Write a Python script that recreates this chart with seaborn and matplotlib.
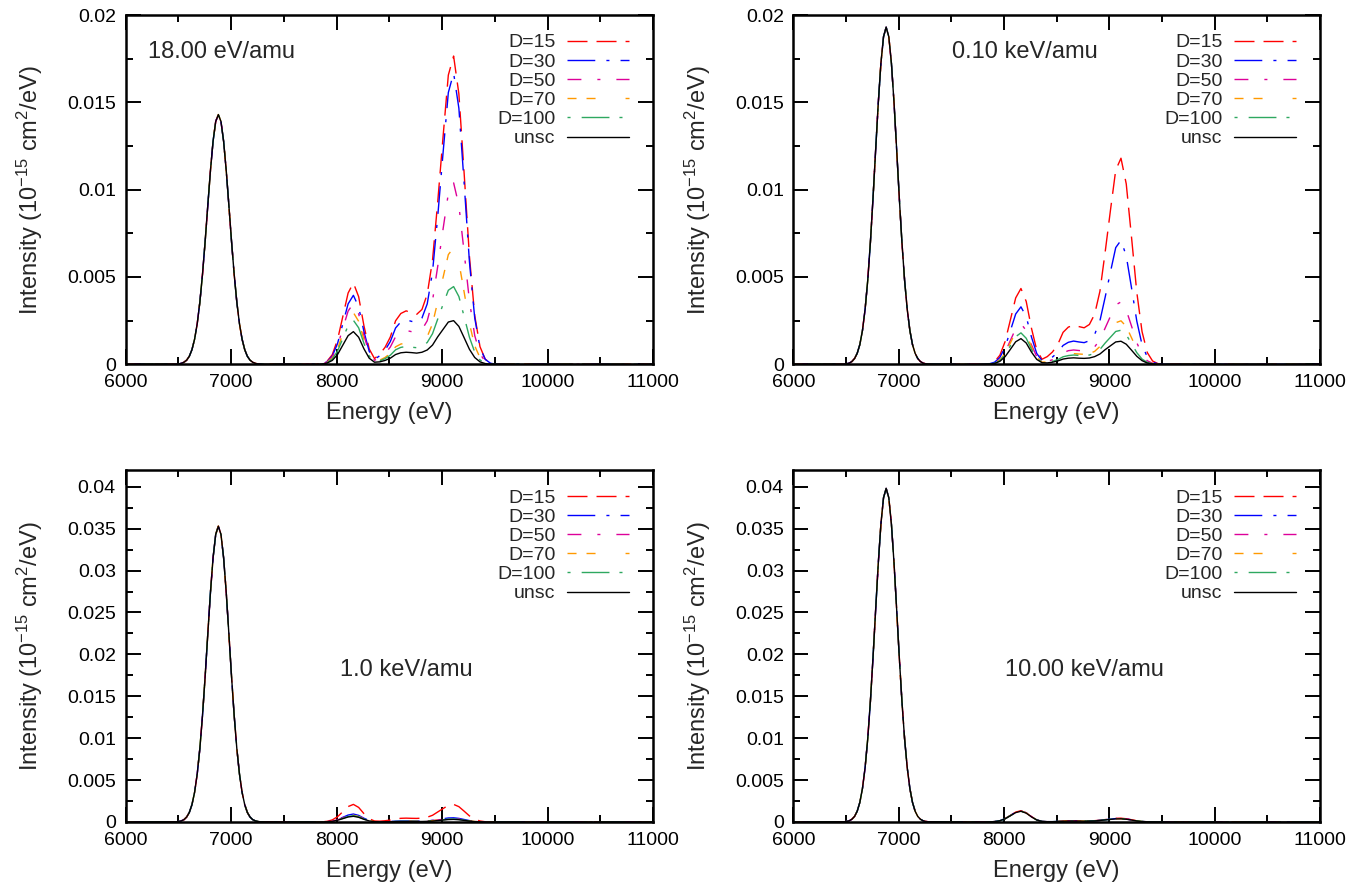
import numpy as np
import pandas as pd
import matplotlib
matplotlib.use("Agg")
import matplotlib.pyplot as plt
from matplotlib.ticker import MultipleLocator, FuncFormatter
import seaborn as sns

# ---------------- data ----------------
series_names = ["D=15", "D=30", "D=50", "D=70", "D=100", "unsc"]
panel_titles = ["18.00 eV/amu", "0.10 keV/amu", "1.0 keV/amu", "10.00 keV/amu"]

# energy grids (eV)
energy_main = np.arange(6480, 7281, 25)   # 33 points, main line
energy_sat = np.arange(7810, 9511, 50)    # 35 points, satellite lines

# main line (identical for all D within a panel)
p1_main = [0.00001, 0.00002, 0.00006, 0.00012, 0.00024, 0.00046, 0.00084, 0.00144, 0.00233, 0.00357, 0.00516,
           0.00704, 0.00909, 0.01108, 0.01277, 0.0139, 0.0143, 0.0139, 0.01277, 0.01108, 0.00909, 0.00704,
           0.00516, 0.00357, 0.00233, 0.00144, 0.00084, 0.00046, 0.00024, 0.00012, 0.00006, 0.00002, 0.00001]
p2_main = [0.00001, 0.00003, 0.00007, 0.00016, 0.00033, 0.00063, 0.00113, 0.00194, 0.00315, 0.00481, 0.00696,
           0.0095, 0.01226, 0.01495, 0.01723, 0.01876, 0.0193, 0.01876, 0.01723, 0.01495, 0.01226, 0.0095,
           0.00696, 0.00481, 0.00315, 0.00194, 0.00113, 0.00063, 0.00033, 0.00016, 0.00007, 0.00003, 0.00001]
p3_main = [0.00002, 0.00006, 0.00014, 0.00029, 0.0006, 0.00114, 0.00207, 0.00355, 0.00575, 0.0088, 0.01273,
           0.01738, 0.02243, 0.02735, 0.03152, 0.03431, 0.0353, 0.03431, 0.03152, 0.02735, 0.02243, 0.01738,
           0.01273, 0.0088, 0.00575, 0.00355, 0.00207, 0.00114, 0.0006, 0.00029, 0.00014, 0.00006, 0.00002]
p4_main = [0.00003, 0.00007, 0.00015, 0.00033, 0.00067, 0.00129, 0.00234, 0.00401, 0.00649, 0.00993, 0.01435,
           0.01959, 0.02529, 0.03084, 0.03553, 0.03869, 0.0398, 0.03869, 0.03553, 0.03084, 0.02529, 0.01959,
           0.01435, 0.00993, 0.00649, 0.00401, 0.00234, 0.00129, 0.00067, 0.00033, 0.00015, 0.00007, 0.00003]

# satellite region, panel 1 (18.00 eV/amu)
p1_d15 = [0.00001, 0.00004, 0.00017, 0.00055, 0.00141, 0.00274, 0.00408, 0.00466, 0.00387, 0.00221, 0.00088,
          0.00033, 0.00058, 0.00097, 0.00156, 0.00249, 0.00291, 0.00306, 0.00295, 0.00286, 0.00314, 0.00401,
          0.00595, 0.00934, 0.01302, 0.01656, 0.01765, 0.01548, 0.01092, 0.00619, 0.0028, 0.00101, 0.00029,
          0.00007, 0.00001]
p1_d30 = [0.00001, 0.00003, 0.00014, 0.00047, 0.00119, 0.00232, 0.00346, 0.00395, 0.00328, 0.00188, 0.00074,
          0.00028, 0.00049, 0.00081, 0.0013, 0.00208, 0.00243, 0.00255, 0.00246, 0.00239, 0.00265, 0.00346,
          0.00528, 0.0085, 0.0121, 0.01556, 0.01668, 0.01466, 0.01035, 0.00587, 0.00266, 0.00096, 0.00028,
          0.00006, 0.00001]
p1_d50 = [0.00001, 0.00003, 0.00013, 0.00041, 0.00105, 0.00205, 0.00305, 0.00348, 0.00289, 0.00165, 0.00065,
          0.00023, 0.00038, 0.00061, 0.00099, 0.00158, 0.00184, 0.00194, 0.00187, 0.00181, 0.00198, 0.00249,
          0.00364, 0.00563, 0.00774, 0.00978, 0.01039, 0.0091, 0.00641, 0.00364, 0.00165, 0.00059, 0.00017,
          0.00004, 0.00001]
p1_d70 = [0.0, 0.00002, 0.00011, 0.00035, 0.00089, 0.00174, 0.00259, 0.00296, 0.00246, 0.00141, 0.00056,
          0.00019, 0.00024, 0.00039, 0.00062, 0.001, 0.00116, 0.00122, 0.00118, 0.00114, 0.00125, 0.00158,
          0.00232, 0.0036, 0.00497, 0.00628, 0.00668, 0.00585, 0.00413, 0.00234, 0.00106, 0.00038, 0.00011,
          0.00003, 0.0]
p1_d100 = [0.0, 0.00002, 0.00009, 0.0003, 0.00076, 0.00148, 0.00221, 0.00252, 0.00209, 0.0012, 0.00047,
           0.00016, 0.0002, 0.00032, 0.00052, 0.00083, 0.00097, 0.00102, 0.00098, 0.00095, 0.00102, 0.00125,
           0.00175, 0.0026, 0.00343, 0.00424, 0.00445, 0.00388, 0.00273, 0.00155, 0.0007, 0.00025, 0.00007,
           0.00002, 0.0]
p1_unsc = [0.0, 0.00002, 0.00007, 0.00022, 0.00056, 0.0011, 0.00164, 0.00187, 0.00155, 0.00089, 0.00035,
           0.00012, 0.00014, 0.00022, 0.00035, 0.00056, 0.00066, 0.00069, 0.00067, 0.00064, 0.00069, 0.00082,
           0.0011, 0.00158, 0.002, 0.00242, 0.0025, 0.00217, 0.00152, 0.00086, 0.00039, 0.00014, 0.00004,
           0.00001, 0.0]

# satellite region, panel 2 (0.10 keV/amu)
p2_d15 = [0.00001, 0.00004, 0.00016, 0.00052, 0.00131, 0.00255, 0.0038, 0.00434, 0.0036, 0.00206, 0.00082,
          0.00029, 0.00044, 0.00071, 0.00114, 0.00183, 0.00213, 0.00224, 0.00216, 0.00209, 0.00228, 0.00287,
          0.00418, 0.00644, 0.00882, 0.01112, 0.0118, 0.01033, 0.00728, 0.00413, 0.00187, 0.00067, 0.00019,
          0.00004, 0.00001]
p2_d30 = [0.0, 0.00003, 0.00012, 0.00039, 0.00099, 0.00193, 0.00288, 0.00329, 0.00273, 0.00156, 0.00062,
          0.00021, 0.00027, 0.00042, 0.00068, 0.00108, 0.00126, 0.00133, 0.00128, 0.00124, 0.00135, 0.00171,
          0.00249, 0.00385, 0.00529, 0.00668, 0.0071, 0.00621, 0.00438, 0.00248, 0.00112, 0.00041, 0.00012,
          0.00003, 0.0]
p2_d50 = [0.0, 0.00002, 0.00008, 0.00028, 0.0007, 0.00137, 0.00204, 0.00233, 0.00193, 0.00111, 0.00044,
          0.00014, 0.00017, 0.00026, 0.00042, 0.00066, 0.00078, 0.00082, 0.00079, 0.00076, 0.00082, 0.001,
          0.0014, 0.00208, 0.00275, 0.0034, 0.00357, 0.00311, 0.00219, 0.00124, 0.00056, 0.0002, 0.00006,
          0.00001, 0.0]
p2_d70 = [0.0, 0.00002, 0.00008, 0.00025, 0.00063, 0.00123, 0.00184, 0.0021, 0.00174, 0.001, 0.00039,
          0.00013, 0.00013, 0.00019, 0.00031, 0.0005, 0.00058, 0.00061, 0.00059, 0.00057, 0.00061, 0.00074,
          0.00102, 0.00149, 0.00194, 0.00238, 0.00249, 0.00217, 0.00152, 0.00086, 0.00039, 0.00014, 0.00004,
          0.00001, 0.0]
p2_d100 = [0.0, 0.00002, 0.00006, 0.00021, 0.00054, 0.00106, 0.00158, 0.0018, 0.00149, 0.00086, 0.00034,
           0.00011, 0.00011, 0.00017, 0.00027, 0.00043, 0.0005, 0.00053, 0.00051, 0.00049, 0.00053, 0.00063,
           0.00085, 0.00122, 0.00155, 0.00188, 0.00195, 0.00169, 0.00119, 0.00067, 0.0003, 0.00011, 0.00003,
           0.00001, 0.0]
p2_unsc = [0.0, 0.00001, 0.00005, 0.00017, 0.00044, 0.00086, 0.00129, 0.00147, 0.00122, 0.0007, 0.00028,
           0.00009, 0.00008, 0.00012, 0.00019, 0.0003, 0.00035, 0.00037, 0.00035, 0.00034, 0.00036, 0.00044,
           0.00059, 0.00084, 0.00106, 0.00128, 0.00132, 0.00115, 0.00081, 0.00046, 0.00021, 0.00007, 0.00002,
           0.0, 0.0]

# satellite region, panel 3 (1.0 keV/amu)
p3_d15 = [0.0, 0.00002, 0.00008, 0.00025, 0.00063, 0.00123, 0.00184, 0.0021, 0.00174, 0.001, 0.00039,
          0.00012, 0.0001, 0.00015, 0.00023, 0.00037, 0.00044, 0.00046, 0.00044, 0.00043, 0.00046, 0.00057,
          0.0008, 0.0012, 0.0016, 0.00199, 0.0021, 0.00183, 0.00129, 0.00073, 0.00033, 0.00012, 0.00003,
          0.00001, 0.0]
p3_d30 = [0.0, 0.00001, 0.00003, 0.00011, 0.00029, 0.00056, 0.00083, 0.00095, 0.00079, 0.00045, 0.00018,
          0.00005, 0.00003, 0.00004, 0.00006, 0.0001, 0.00012, 0.00012, 0.00012, 0.00011, 0.00012, 0.00015,
          0.0002, 0.0003, 0.00039, 0.00048, 0.0005, 0.00043, 0.0003, 0.00017, 0.00008, 0.00003, 0.00001,
          0.0, 0.0]
p3_d50 = [0.0, 0.00001, 0.00003, 0.0001, 0.00026, 0.0005, 0.00074, 0.00085, 0.00071, 0.0004, 0.00016,
          0.00005, 0.00003, 0.00003, 0.00005, 0.00008, 0.0001, 0.0001, 0.0001, 0.00009, 0.0001, 0.00012,
          0.00017, 0.00025, 0.00032, 0.0004, 0.00042, 0.00036, 0.00025, 0.00014, 0.00007, 0.00002, 0.00001,
          0.0, 0.0]
p3_d70 = [0.0, 0.00001, 0.00003, 0.0001, 0.00024, 0.00047, 0.0007, 0.0008, 0.00066, 0.00038, 0.00015,
          0.00004, 0.00002, 0.00003, 0.00005, 0.00007, 0.00009, 0.00009, 0.00009, 0.00008, 0.00009, 0.00011,
          0.00016, 0.00023, 0.0003, 0.00037, 0.00038, 0.00033, 0.00023, 0.00013, 0.00006, 0.00002, 0.00001,
          0.0, 0.0]
p3_d100 = [0.0, 0.00001, 0.00003, 0.00009, 0.00023, 0.00044, 0.00066, 0.00075, 0.00062, 0.00036, 0.00014,
           0.00004, 0.00002, 0.00003, 0.00004, 0.00007, 0.00008, 0.00008, 0.00008, 0.00007, 0.00008, 0.0001,
           0.00014, 0.00021, 0.00027, 0.00034, 0.00035, 0.00031, 0.00022, 0.00012, 0.00006, 0.00002, 0.00001,
           0.0, 0.0]
p3_unsc = [0.0, 0.00001, 0.00002, 0.00008, 0.00021, 0.0004, 0.0006, 0.00068, 0.00056, 0.00032, 0.00013,
           0.00004, 0.00002, 0.00002, 0.00003, 0.00005, 0.00006, 0.00006, 0.00006, 0.00006, 0.00006, 0.00008,
           0.00011, 0.00017, 0.00023, 0.00029, 0.00031, 0.00027, 0.00019, 0.00011, 0.00005, 0.00002, 0.0,
           0.0, 0.0]

# satellite region, panel 4 (10.00 keV/amu)
p4_d15 = [0.0, 0.00001, 0.00005, 0.00016, 0.00041, 0.00079, 0.00118, 0.00135, 0.00112, 0.00064, 0.00025,
          0.00007, 0.00004, 0.00004, 0.00007, 0.00011, 0.00013, 0.00013, 0.00013, 0.00012, 0.00013, 0.00016,
          0.00021, 0.00029, 0.00036, 0.00044, 0.00045, 0.00039, 0.00027, 0.00015, 0.00007, 0.00003, 0.00001,
          0.0, 0.0]
p4_d30 = [0.0, 0.00001, 0.00005, 0.00016, 0.0004, 0.00078, 0.00117, 0.00133, 0.0011, 0.00063, 0.00025,
          0.00007, 0.00004, 0.00004, 0.00006, 0.0001, 0.00012, 0.00012, 0.00012, 0.00011, 0.00012, 0.00014,
          0.00019, 0.00027, 0.00034, 0.00041, 0.00042, 0.00036, 0.00025, 0.00014, 0.00007, 0.00002, 0.00001,
          0.0, 0.0]
p4_d50 = [0.0, 0.00001, 0.00005, 0.00016, 0.0004, 0.00078, 0.00116, 0.00132, 0.0011, 0.00063, 0.00025,
          0.00007, 0.00004, 0.00004, 0.00006, 0.0001, 0.00012, 0.00012, 0.00012, 0.00011, 0.00012, 0.00014,
          0.00019, 0.00027, 0.00033, 0.0004, 0.00041, 0.00035, 0.00025, 0.00014, 0.00006, 0.00002, 0.00001,
          0.0, 0.0]
p4_d70 = [0.0, 0.00001, 0.00005, 0.00016, 0.0004, 0.00077, 0.00115, 0.00131, 0.00109, 0.00062, 0.00025,
          0.00007, 0.00004, 0.00004, 0.00006, 0.0001, 0.00012, 0.00012, 0.00012, 0.00011, 0.00012, 0.00014,
          0.00019, 0.00026, 0.00033, 0.00039, 0.0004, 0.00034, 0.00024, 0.00014, 0.00006, 0.00002, 0.00001,
          0.0, 0.0]
p4_d100 = [0.0, 0.00001, 0.00005, 0.00015, 0.00039, 0.00076, 0.00114, 0.0013, 0.00108, 0.00062, 0.00024,
           0.00007, 0.00004, 0.00004, 0.00006, 0.0001, 0.00012, 0.00012, 0.00012, 0.00011, 0.00012, 0.00014,
           0.00019, 0.00026, 0.00032, 0.00038, 0.00039, 0.00034, 0.00023, 0.00013, 0.00006, 0.00002, 0.00001,
           0.0, 0.0]
p4_unsc = [0.0, 0.00001, 0.00005, 0.00015, 0.00039, 0.00075, 0.00112, 0.00128, 0.00106, 0.00061, 0.00024,
           0.00007, 0.00003, 0.00004, 0.00006, 0.00009, 0.00011, 0.00011, 0.00011, 0.0001, 0.00011, 0.00013,
           0.00018, 0.00025, 0.00031, 0.00037, 0.00038, 0.00033, 0.00023, 0.00013, 0.00006, 0.00002, 0.00001,
           0.0, 0.0]

y_limits = [0.02, 0.02, 0.042, 0.042]
x_ticks = [6000, 7000, 8000, 9000, 10000, 11000]

# ---------------- style ----------------
sns.set_theme(style="ticks")
plt.rcParams["font.family"] = ["Liberation Sans", "DejaVu Sans"]
plt.rcParams["mathtext.fontset"] = "custom"
plt.rcParams["mathtext.rm"] = "Liberation Sans"
plt.rcParams["mathtext.it"] = "Liberation Sans:italic"
plt.rcParams["mathtext.bf"] = "Liberation Sans:bold"
plt.rcParams["lines.scale_dashes"] = False
plt.rcParams["axes.linewidth"] = 1.8

palette = {"D=15": "#ff0000", "D=30": "#0000ff", "D=50": "#dd0099",
           "D=70": "#ff9900", "D=100": "#2ea860", "unsc": "#000000"}
dash_styles = {"D=15": (14.4, 6.5), "D=30": (20, 8, 2.2, 8), "D=50": (10, 11.5, 2.2, 11.5),
               "D=70": (6.5, 7.2, 6.5, 21.6), "D=100": (2.2, 8, 20, 7.2), "unsc": ""}

panels = [
    (p1_main, [p1_d15, p1_d30, p1_d50, p1_d70, p1_d100, p1_unsc]),
    (p2_main, [p2_d15, p2_d30, p2_d50, p2_d70, p2_d100, p2_unsc]),
    (p3_main, [p3_d15, p3_d30, p3_d50, p3_d70, p3_d100, p3_unsc]),
    (p4_main, [p4_d15, p4_d30, p4_d50, p4_d70, p4_d100, p4_unsc]),
]

W, H = 1366, 886
fig = plt.figure(figsize=(W / 100, H / 100), dpi=100)
# axes boxes in pixels: left, right, top, bottom
boxes = [(125.5, 653, 15, 364.3), (793.5, 1320, 15, 364.3),
         (125.5, 653, 470, 822), (793.5, 1320, 470, 822)]
text_pos = [(6215, 0.0179), (7505, 0.0179), (8033, 0.0181), (8008, 0.0181)]

for i, ((main_vals, sat_list), (l, r, t, b)) in enumerate(zip(panels, boxes)):
    ax = fig.add_axes([l / W, 1 - b / H, (r - l) / W, (b - t) / H])
    frames = []
    for name, sat in zip(series_names, sat_list):
        e = np.concatenate([[6000], energy_main, [7500], energy_sat, [11000]])
        v = np.concatenate([[0.0], main_vals, [0.0], sat, [0.0]])
        frames.append(pd.DataFrame({"energy": e, "intensity": v, "series": name}))
    df = pd.concat(frames, ignore_index=True)
    sns.lineplot(data=df, x="energy", y="intensity", hue="series", style="series",
                 hue_order=series_names, style_order=series_names,
                 palette=palette, dashes=dash_styles, linewidth=1.0,
                 errorbar=None, sort=False, ax=ax, legend="full")
    ax.set_xlim(6000, 11000)
    ax.set_ylim(0, y_limits[i])
    ax.set_xticks(x_ticks)
    ax.xaxis.set_minor_locator(MultipleLocator(500))
    ax.yaxis.set_major_locator(MultipleLocator(0.005))
    ax.yaxis.set_minor_locator(MultipleLocator(0.0025))
    ax.yaxis.set_major_formatter(FuncFormatter(lambda v, p: "%g" % round(v, 6)))
    ax.tick_params(which="both", direction="in", top=True, right=True, width=1.4,
                   labelsize=14, pad=7, colors="black")
    ax.tick_params(which="major", length=10.5)
    ax.tick_params(which="minor", length=5.2)
    for s in ax.spines.values():
        s.set_color("black")
        s.set_linewidth(1.8)
    ax.set_xlabel("Energy (eV)", fontsize=17, labelpad=8)
    ax.set_ylabel(r"Intensity (10$^{-15}$ cm$^{2}$/eV)", fontsize=17, labelpad=16)
    ax.text(text_pos[i][0], text_pos[i][1], panel_titles[i], fontsize=17,
            ha="left", va="center")
    sns.move_legend(ax, "upper right", bbox_to_anchor=(0.955, 0.946), title=None,
                    frameon=False, markerfirst=False, fontsize=14, handlelength=3.2,
                    handletextpad=0.6, labelspacing=0.08, borderpad=0, borderaxespad=0)
    ax.set_facecolor("white")

fig.savefig("out.png", dpi=100, facecolor="white")
